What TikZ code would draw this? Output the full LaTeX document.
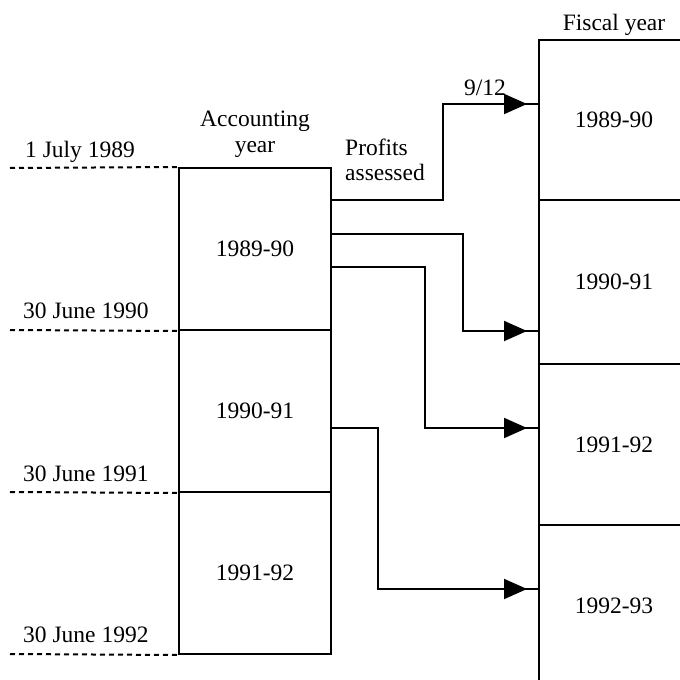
\documentclass[tikz,border=0pt]{standalone}
\usepackage{fontspec}
\setmainfont{Liberation Serif}
\usetikzlibrary{arrows.meta,decorations.markings}
\begin{document}
\begin{tikzpicture}[x=1pt,y=-1pt,
  every node/.style={font=\fontsize{23.5}{28}\selectfont},
  box/.style={draw,line width=2pt,inner sep=0pt,minimum width=#1},
  lbox/.style={box=152pt,minimum height=162pt},
  rbox/.style={draw,line width=2pt,inner sep=0pt,minimum width=150pt,minimum height=#1},
  dateline/.style={line width=2pt,dash pattern=on 5pt off 4pt},
  conn/.style={line width=2pt,
    decoration={markings,mark=at position -11pt with {\arrow{Triangle[length=23pt,width=20pt]}}},
    postaction={decorate}},
  lab/.style={anchor=base,inner sep=0pt},
  labw/.style={anchor=base west,inner sep=0pt}]
\useasboundingbox (0,0) rectangle (680,680);
% accounting year boxes
\node[lbox] (L1) at (255,249) {1989-90};
\node[lbox] (L2) at (255,411) {1990-91};
\node[lbox] (L3) at (255,573) {1991-92};
% fiscal year boxes (open to the right)
\node[rbox=160pt] (R1) at (614,120) {1989-90};
\node[rbox=164pt] (R2) at (614,282) {1990-91};
\node[rbox=161pt] (R3) at (614,444.5) {1991-92};
\node[rbox=161pt] (R4) at (614,605.5) {1992-93};
% date lines
\coordinate (D0) at (10,168);
\coordinate (D1) at (10,330);
\coordinate (D2) at (10,492);
\coordinate (D3) at (10,654);
\draw[dateline] (D0) -- (L1.north west);
\draw[dateline] (D1) -- (L1.south west);
\draw[dateline] (D2) -- (L2.south west);
\draw[dateline] (D3) -- (L3.south west);
% labels
\node[lab] (fy) at (614,30) {Fiscal year};
\node[lab] (frac) at (485,95) {9/12};
\node[lab] (acc1) at (255,126) {Accounting};
\node[lab] (acc2) at (255,152) {year};
\node[labw] (pa1) at (345,155) {Profits};
\node[labw] (pa2) at (345,180) {assessed};
\node[labw] (d0) at (25,157) {1 July 1989};
\node[labw] (d1) at (23,318) {30 June 1990};
\node[labw] (d2) at (23,481) {30 June 1991};
\node[labw] (d3) at (23,642) {30 June 1992};
% connectors
\draw[conn] (L1.east |- 0,200) -- (443,200) -- (443,104) -- (R1.west |- 0,104);
\draw[conn] (L1.east |- 0,234) -- (463,234) -- (463,331) -- (R2.west |- 0,331);
\draw[conn] (L1.east |- 0,267) -- (425,267) -- (425,428) -- (R3.west |- 0,428);
\draw[conn] (L2.east |- 0,428) -- (378,428) -- (378,589) -- (R4.west |- 0,589);
\end{tikzpicture}
\end{document}
